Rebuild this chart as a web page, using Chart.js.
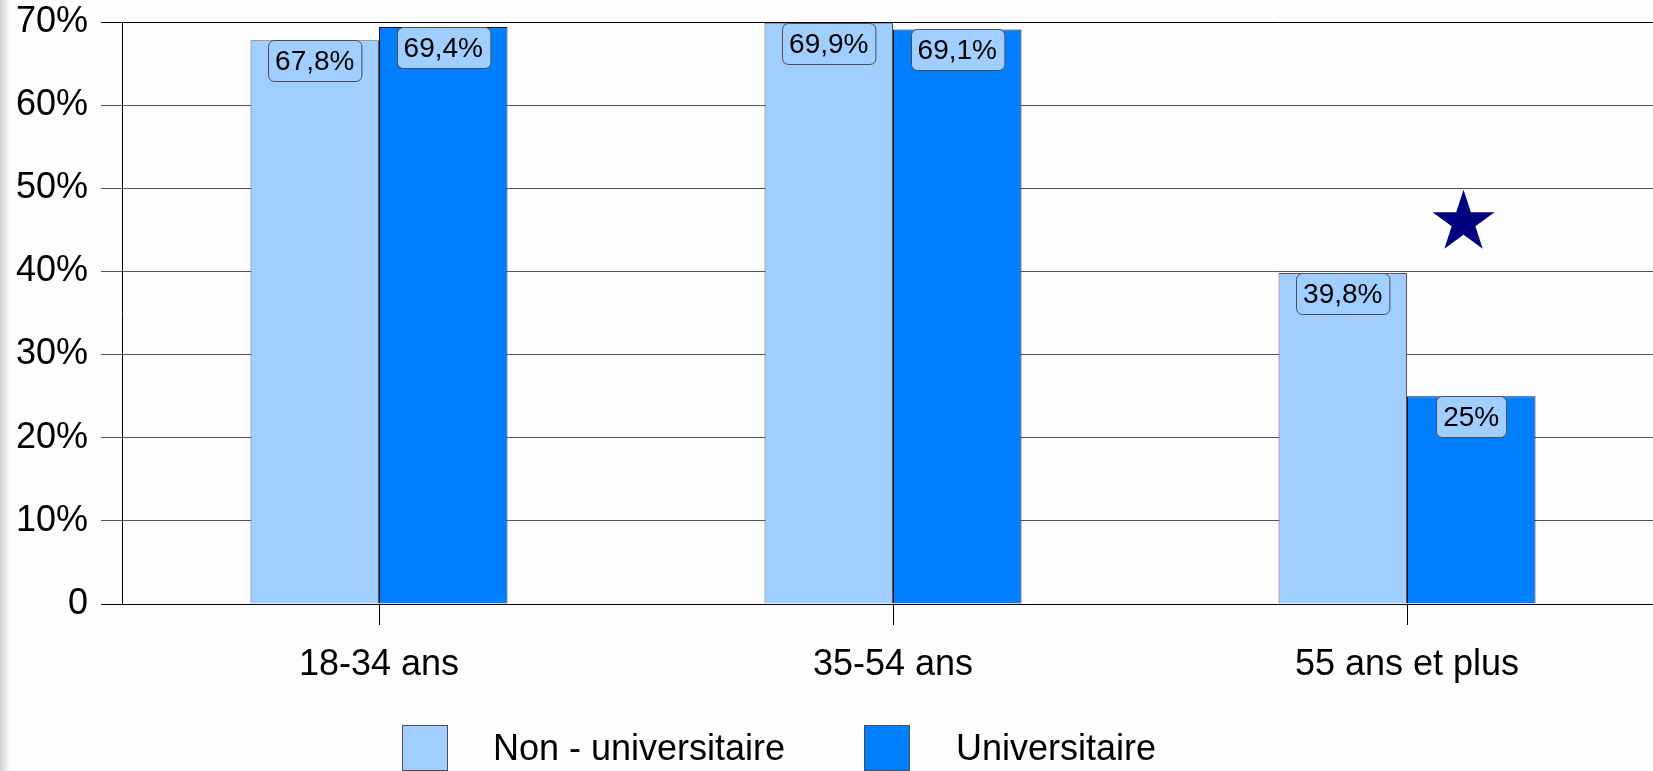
<!DOCTYPE html>
<html>
<head>
<meta charset="utf-8">
<script src="https://cdn.jsdelivr.net/npm/chart.js@4"></script>
<style>
  html, body { margin: 0; padding: 0; width: 1653px; height: 771px; overflow: hidden; background: #fdfdff; }
  #wrap { position: absolute; left: 0; top: 0; width: 1664px; height: 771px; }
  #strip { position: absolute; left: 0; top: 0; width: 10px; height: 771px;
           background: linear-gradient(to right, #cfcfcf 0px, #e4e4e4 5px, #fdfdff 10px); z-index: 2; }
  .lg-box { position: absolute; width: 44px; height: 44px; border: 1px solid #4d4d4d; top: 725px; }
  .lg-txt { position: absolute; top: 727px; height: 46px; line-height: 46px;
            font: 36px "Liberation Sans", Arial, sans-serif; color: #000; white-space: nowrap; }
</style>
</head>
<body>
<div id="strip"></div>
<div id="wrap"><canvas id="c" width="1664" height="771"></canvas></div>
<div id="legend"></div>
<script>
// ---- data ----
const categories = ["18-34 ans", "35-54 ans", "55 ans et plus"];
const seriesNames = ["Non - universitaire", "Universitaire"];
const nonUniversitaire = [67.8, 69.9, 39.8];
const universitaire = [69.4, 69.1, 25];
const yTickValues = [0, 10, 20, 30, 40, 50, 60, 70];
// star marker: category index (fractional position within the category axis) and value
const starCategory = [2.11];
const starValue = [45.9];

const colLight = "#a0cfff";
const colDark = "#0080ff";
const FONT = '"Liberation Sans", Arial, sans-serif';

// legend (HTML)
const lg = document.getElementById('legend');
[[seriesNames[0], colLight, 402, 493], [seriesNames[1], colDark, 864, 956]].forEach(([t, c, bx, tx]) => {
  const b = document.createElement('div'); b.className = 'lg-box'; b.style.left = bx + 'px'; b.style.background = c; lg.appendChild(b);
  const s = document.createElement('div'); s.className = 'lg-txt'; s.style.left = tx + 'px'; s.textContent = t; lg.appendChild(s);
});

function drawStar(g, cx, cy, R, color) {
  const r = R * 0.382;
  g.beginPath();
  for (let i = 0; i < 10; i++) {
    const rad = i % 2 === 0 ? R : r;
    const a = -Math.PI / 2 + i * Math.PI / 5;
    const px = cx + rad * Math.cos(a), py = cy + rad * Math.sin(a);
    if (i === 0) g.moveTo(px, py); else g.lineTo(px, py);
  }
  g.closePath();
  g.fillStyle = color; g.fill();
}

const fmt = v => String(v).replace('.', ',') + '%';

const valueLabels = {
  id: 'valueLabels',
  afterDatasetsDraw(chart) {
    const ctx = chart.ctx;
    ctx.save();
    ctx.font = '28px ' + FONT;
    ctx.textAlign = 'center';
    ctx.textBaseline = 'middle';
    chart.data.datasets.forEach((ds, di) => {
      const meta = chart.getDatasetMeta(di);
      meta.data.forEach((el, i) => {
        const txt = fmt(ds.data[i]);
        const w = ctx.measureText(txt).width + 14;
        const h = 41;
        const x = Math.round(el.x - w / 2) + 0.5;
        const y = Math.round(el.y) + 0.5;
        ctx.beginPath();
        ctx.roundRect(x, y, w, h, 6);
        ctx.fillStyle = colLight;
        ctx.fill();
        ctx.lineWidth = 1;
        ctx.strokeStyle = '#4d4d4d';
        ctx.stroke();
        ctx.fillStyle = '#000';
        ctx.fillText(txt, el.x, y + h / 2 + 1);
      });
    });
    // star marker, positioned through the scales
    const xs = chart.scales.x, ys = chart.scales.y;
    starCategory.forEach((c, i) => {
      const base = Math.floor(c);
      const step = xs.getPixelForValue(1) - xs.getPixelForValue(0);
      const px = xs.getPixelForValue(base) + (c - base) * step;
      const py = ys.getPixelForValue(starValue[i]);
      drawStar(ctx, px, py, 32.6, '#000080');
    });
    ctx.restore();
  }
};

new Chart(document.getElementById('c'), {
  type: 'bar',
  data: {
    labels: categories,
    datasets: [
      { label: seriesNames[0], data: nonUniversitaire, backgroundColor: colLight, borderColor: '#555555',
        borderWidth: 1, categoryPercentage: 0.5, barPercentage: 1.0 },
      { label: seriesNames[1], data: universitaire, backgroundColor: colDark, borderColor: '#111122',
        borderWidth: 1, categoryPercentage: 0.5, barPercentage: 1.0 }
    ]
  },
  options: {
    responsive: false,
    animation: false,
    devicePixelRatio: 1,
    layout: { padding: { top: 22, left: 0, right: 0, bottom: 77 } },
    plugins: { legend: { display: false }, tooltip: { enabled: false } },
    scales: {
      x: {
        type: 'category',
        offset: true,
        grid: { display: true, offset: false, drawOnChartArea: false, tickLength: 21, color: '#000', lineWidth: 1 },
        border: { display: false },
        ticks: { font: { size: 36, family: FONT }, color: '#000', padding: 18, maxRotation: 0, autoSkip: false },
        afterFit(s) { s.height = 90; s.paddingLeft = 0; s.paddingRight = 0; }
      },
      y: {
        min: 0, max: 70,
        afterBuildTicks(s) { s.ticks = yTickValues.map(v => ({ value: v })); },
        ticks: { font: { size: 36, family: FONT }, color: '#000', padding: 13,
                 callback: v => v === 0 ? '0' : v + '%' },
        grid: { color: ctx => (ctx.tick && (ctx.tick.value === 0 || ctx.tick.value === 70)) ? '#000' : '#555',
                lineWidth: 1, tickLength: 21 },
        border: { display: true, color: '#000', width: 1 },
        afterFit(s) { s.width = 122; s.paddingTop = 0; s.paddingBottom = 0; }
      }
    }
  },
  plugins: [valueLabels]
});
</script>
</body>
</html>
